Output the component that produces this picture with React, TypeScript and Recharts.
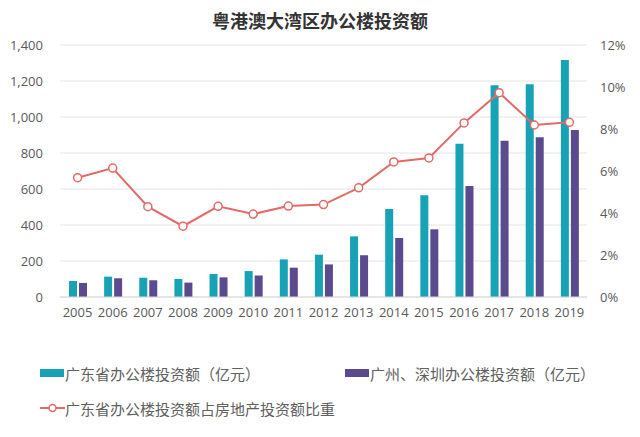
import {
  Bar,
  CartesianGrid,
  ComposedChart,
  Line,
  XAxis,
  YAxis,
} from "recharts";

const years = [
  "2005", "2006", "2007", "2008", "2009", "2010", "2011", "2012",
  "2013", "2014", "2015", "2016", "2017", "2018", "2019",
];
// 广东省办公楼投资额（亿元）
const gdInvest = [89, 113, 107, 100, 128, 144, 209, 235, 337, 489, 565, 852, 1176, 1182, 1317];
// 广州、深圳办公楼投资额（亿元）
const gzszInvest = [78, 104, 93, 80, 109, 120, 163, 181, 232, 328, 376, 617, 868, 887, 928];
// 广东省办公楼投资额占房地产投资额比重 (%)
const gdShare = [5.68, 6.14, 4.3, 3.37, 4.32, 3.95, 4.33, 4.4, 5.2, 6.43, 6.62, 8.29, 9.73, 8.19, 8.32];

const leftTicks = [0, 200, 400, 600, 800, 1000, 1200, 1400];
const rightTicks = [0, 2, 4, 6, 8, 10, 12];

const TEAL = "#17a2b6";
const PURPLE = "#5c4a8f";
const RED = "#e36a66";
const TEXT = "#595959";
const FONT = '"Open Sans", "Noto Sans CJK SC", sans-serif';
const CJK = '"Noto Sans CJK SC", sans-serif';

const data = years.map((y, i) => ({
  year: y,
  gd: gdInvest[i],
  gzsz: gzszInvest[i],
  share: gdShare[i],
}));

const tickStyle = { fill: TEXT, fontSize: 13, fontFamily: FONT };

export default function App() {
  return (
    <div
      style={{
        position: "absolute",
        left: 0,
        top: 0,
        width: 640,
        height: 437,
        background: "#fff",
        fontFamily: CJK,
      }}
    >
      <div
        style={{
          position: "absolute",
          top: 7,
          left: 0,
          width: 640,
          textAlign: "center",
          fontSize: 18,
          fontWeight: 700,
          color: "#333",
          lineHeight: "26px",
        }}
      >
        粤港澳大湾区办公楼投资额
      </div>

      <ComposedChart
        width={640}
        height={437}
        data={data}
        margin={{ top: 45, right: 0, bottom: 110, left: 0 }}
        barSize={8}
        barGap={2}
      >
        <CartesianGrid yAxisId="left" stroke="#e4e4e4" vertical={false} />
        <XAxis
          dataKey="year"
          height={30}
          tick={tickStyle}
          tickLine={false}
          tickSize={0}
          tickMargin={11}
          axisLine={{ stroke: "#d9d9d9" }}
          interval={0}
        />
        <YAxis
          yAxisId="left"
          width={60}
          domain={[0, 1400]}
          ticks={leftTicks}
          tick={tickStyle}
          tickLine={false}
          tickSize={0}
          tickMargin={17}
          axisLine={false}
          tickFormatter={(v: number) => v.toLocaleString("en-US")}
        />
        <YAxis
          yAxisId="right"
          orientation="right"
          width={53}
          domain={[0, 12]}
          ticks={rightTicks}
          tick={{ ...tickStyle, textAnchor: "start" }}
          tickLine={false}
          tickSize={0}
          tickMargin={13}
          axisLine={false}
          tickFormatter={(v: number) => `${v}%`}
        />
        <Bar yAxisId="left" dataKey="gd" fill={TEAL} isAnimationActive={false} />
        <Bar yAxisId="left" dataKey="gzsz" fill={PURPLE} isAnimationActive={false} />
        <Line
          yAxisId="right"
          dataKey="share"
          type="linear"
          stroke={RED}
          strokeWidth={2}
          dot={{ r: 4, fill: "#fff", stroke: RED, strokeWidth: 1.5 }}
          isAnimationActive={false}
        />
      </ComposedChart>

      <LegendItem x={40} y={373} label="广东省办公楼投资额（亿元）" kind="bar" color={TEAL} />
      <LegendItem x={345} y={373} label="广州、深圳办公楼投资额（亿元）" kind="bar" color={PURPLE} />
      <LegendItem x={40} y={408} label="广东省办公楼投资额占房地产投资额比重" kind="line" color={RED} />
    </div>
  );
}

function LegendItem({
  x,
  y,
  label,
  kind,
  color,
}: {
  x: number;
  y: number;
  label: string;
  kind: "bar" | "line";
  color: string;
}) {
  return (
    <div
      style={{
        position: "absolute",
        left: x,
        top: y - 11,
        height: 22,
        display: "flex",
        alignItems: "center",
        fontSize: 15,
        color: "#606060",
        whiteSpace: "nowrap",
      }}
    >
      {kind === "bar" ? (
        <span style={{ display: "inline-block", width: 24, height: 8, background: color, marginRight: 1 }} />
      ) : (
        <svg width={25} height={10}>
          <line x1={0} y1={5} x2={25} y2={5} stroke={color} strokeWidth={2} />
          <circle cx={12.5} cy={5} r={3.5} fill="#fff" stroke={color} strokeWidth={1.5} />
        </svg>
      )}
      {label}
    </div>
  );
}
